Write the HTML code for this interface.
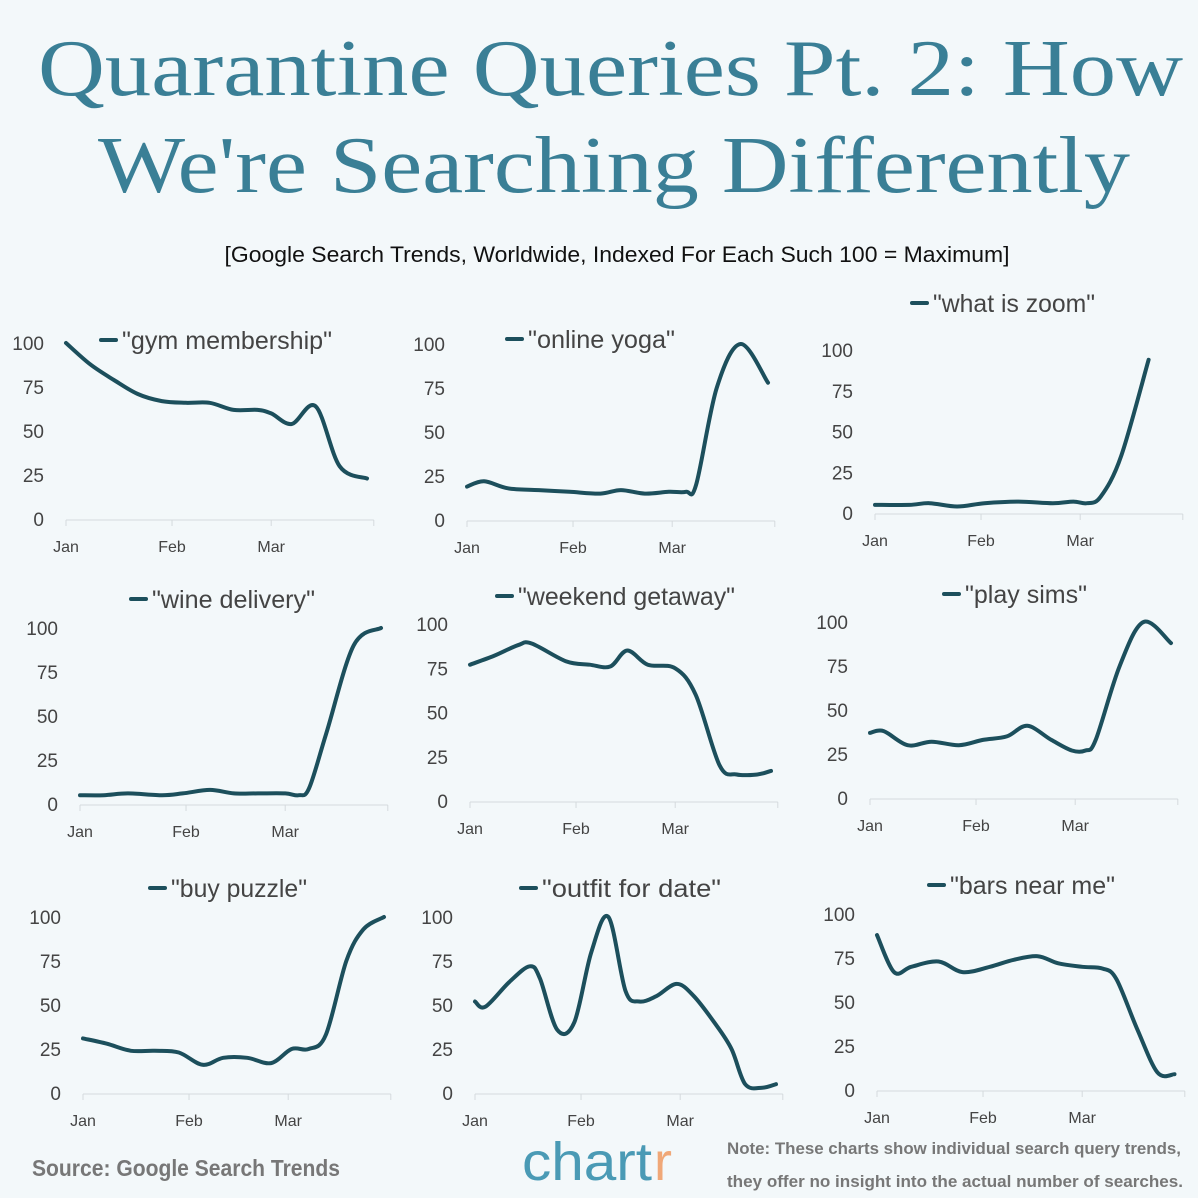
<!DOCTYPE html>
<html><head><meta charset="utf-8">
<style>
html,body{margin:0;padding:0;background:#f3f8fa;}
svg{display:block;}
</style></head>
<body>
<svg id="chart" width="1198" height="1198" viewBox="0 0 1198 1198" xmlns="http://www.w3.org/2000/svg">
<rect width="1198" height="1198" fill="#f3f8fa"/>
<text x="38" y="95" font-family="Liberation Serif, serif" font-size="80" fill="#3a7f96" textLength="1145" lengthAdjust="spacingAndGlyphs">Quarantine Queries Pt. 2: How</text>
<text x="98" y="192" font-family="Liberation Serif, serif" font-size="80" fill="#3a7f96" textLength="1032" lengthAdjust="spacingAndGlyphs">We're Searching Differently</text>
<text x="617" y="262" text-anchor="middle" font-family="Liberation Sans, sans-serif" font-size="22" fill="#111" textLength="785" lengthAdjust="spacingAndGlyphs">[Google Search Trends, Worldwide, Indexed For Each Such 100 = Maximum]</text>
<text x="32" y="1176" font-family="Liberation Sans, sans-serif" font-size="23" font-weight="bold" fill="#777" textLength="308" lengthAdjust="spacingAndGlyphs">Source: Google Search Trends</text>
<text x="522" y="1180" font-family="Liberation Sans, sans-serif" font-size="54" fill="#4a9ab5" textLength="130" lengthAdjust="spacingAndGlyphs">chart</text>
<text x="654" y="1180" font-family="Liberation Sans, sans-serif" font-size="54" fill="#f0a878">r</text>
<text x="727" y="1154" font-family="Liberation Sans, sans-serif" font-size="17" font-weight="bold" fill="#777" textLength="454" lengthAdjust="spacingAndGlyphs">Note: These charts show individual search query trends,</text>
<text x="727" y="1187" font-family="Liberation Sans, sans-serif" font-size="17" font-weight="bold" fill="#777" textLength="456" lengthAdjust="spacingAndGlyphs">they offer no insight into the actual number of searches.</text>
<g id="panels"></g>
</svg>
<script>
const terms = ['"gym membership"','"online yoga"','"what is zoom"','"wine delivery"','"weekend getaway"','"play sims"','"buy puzzle"','"outfit for date"','"bars near me"'];
const months = ['Jan','Feb','Mar'];
const yTicks = [0,25,50,75,100];
const days1 = [0,7,14,21,28,35,42,49,56,60,66,73,80,88];
const vals1 = [100,88,79,71,67,66,66,62,62,60,54,64,30,23];
const days2 = [0,5,12,21,30,39,45,52,59,64,67,73,80,88];
const vals2 = [19,22,18,17,16,15,17,15,16,16,20,75,100,78];
const days3 = [0,10,16,24,32,42,52,58,62,66,72,80];
const vals3 = [5,5,6,4,6,7,6,7,6,10,35,94];
const days4 = [0,7,14,24,30,38,45,52,60,64,67,72,80,88];
const vals4 = [5,5,6,5,6,8,6,6,6,5,9,40,90,100];
const days5 = [0,7,14,18,28,35,41,46,52,60,66,73,78,84,88];
const vals5 = [77,82,88,89,79,77,76,85,77,75,60,20,15,15,17];
const days6 = [0,4,11,18,26,33,40,46,53,59,63,66,73,80,88];
const vals6 = [37,38,30,32,30,33,35,41,33,27,27,33,75,100,88];
const days7 = [0,7,14,21,28,35,41,48,55,61,66,71,77,82,88];
const vals7 = [31,28,24,24,23,16,20,20,17,25,25,33,75,93,100];
const days8 = [0,3,10,16,19,24,29,34,39,44,48,53,59,64,70,75,79,84,88];
const vals8 = [52,49,63,72,65,36,40,80,100,58,52,55,62,55,40,25,5,3,5];
const days9 = [0,5,10,18,25,33,40,47,53,60,66,70,76,82,87];
const vals9 = [88,67,70,73,67,70,74,76,72,70,69,63,35,10,9];
const allDays = [days1,days2,days3,days4,days5,days6,days7,days8,days9];
const allVals = [vals1,vals2,vals3,vals4,vals5,vals6,vals7,vals8,vals9];
const monthDays = [0,31,60];

// layout (positions only)
const L = [
 {jan:66,y100:343,y0:519,tx:122,te:332,ly:341},
 {jan:467,y100:344,y0:520,tx:528,te:675,ly:340},
 {jan:875,y100:350,y0:513,tx:933,te:1095,ly:304},
 {jan:80,y100:628,y0:804,tx:152,te:315,ly:600},
 {jan:470,y100:624,y0:801,tx:518,te:735,ly:597},
 {jan:870,y100:622,y0:798,tx:965,te:1087,ly:595},
 {jan:83,y100:917,y0:1093,tx:171,te:307,ly:889},
 {jan:475,y100:917,y0:1093,tx:542,te:721,ly:889},
 {jan:877,y100:914,y0:1090,tx:950,te:1115,ly:886}
];
const pxPerDay = 3.42;
const NS='http://www.w3.org/2000/svg';
const root=document.getElementById('panels');
function mk(tag,attrs,parent){const e=document.createElementNS(NS,tag);for(const k in attrs)e.setAttribute(k,attrs[k]);parent.appendChild(e);return e;}
function smooth(pts){
 let d='M'+pts[0][0].toFixed(1)+','+pts[0][1].toFixed(1);
 for(let i=0;i<pts.length-1;i++){
  const p0=pts[Math.max(0,i-1)],p1=pts[i],p2=pts[i+1],p3=pts[Math.min(pts.length-1,i+2)];
  const c1=[p1[0]+(p2[0]-p0[0])/6,p1[1]+(p2[1]-p0[1])/6];
  const c2=[p2[0]-(p3[0]-p1[0])/6,p2[1]-(p3[1]-p1[1])/6];
  d+='C'+c1[0].toFixed(1)+','+c1[1].toFixed(1)+' '+c2[0].toFixed(1)+','+c2[1].toFixed(1)+' '+p2[0].toFixed(1)+','+p2[1].toFixed(1);
 }
 return d;
}
L.forEach((p,i)=>{
 const g=mk('g',{},root);
 
 
 const xs=d=>p.jan+d*pxPerDay;
 const ys=v=>p.y0-(p.y0-p.y100)*v/100;
 const axEnd=xs(90);
 const ax=mk('line',{x1:p.jan,y1:p.y0+1,x2:axEnd,y2:p.y0+1,stroke:'#d4dadd','stroke-width':1},g);
 
 
 monthDays.concat([90]).forEach(md=>{
  const t=mk('line',{x1:xs(md),y1:p.y0+1,x2:xs(md),y2:p.y0+7,stroke:'#d4dadd','stroke-width':1},g);
  
  
 });
 months.forEach((m,k)=>{
  const t=mk('text',{x:xs(monthDays[k]),y:p.y0+33,'text-anchor':'middle','font-family':'Liberation Sans, sans-serif','font-size':16,fill:'#444'},g);
  t.textContent=m;
  
  
 });
 yTicks.forEach(v=>{
  const t=mk('text',{x:p.jan-22,y:ys(v)+7,'text-anchor':'end','font-family':'Liberation Sans, sans-serif','font-size':19,fill:'#444'},g);
  t.textContent=v;
  
  
 });
 const pts=allDays[i].map((d,k)=>[xs(d),ys(allVals[i][k])]);
 const path=mk('path',{d:smooth(pts),fill:'none',stroke:'#1c4f5c','stroke-width':4,'stroke-linecap':'round','stroke-linejoin':'round'},g);
 
 
 const lg=mk('g',{},g);
 
 
 const tw=p.te-p.tx;
 mk('line',{x1:p.tx-21,y1:p.ly-1,x2:p.tx-6,y2:p.ly-1,stroke:'#1c4f5c','stroke-width':4,'stroke-linecap':'round'},lg);
 const lt=mk('text',{x:p.tx,y:p.ly+8,'font-family':'Liberation Sans, sans-serif','font-size':25,fill:'#444',textLength:tw,lengthAdjust:'spacingAndGlyphs'},lg);
 lt.textContent=terms[i];
});
</script>
</body></html>
